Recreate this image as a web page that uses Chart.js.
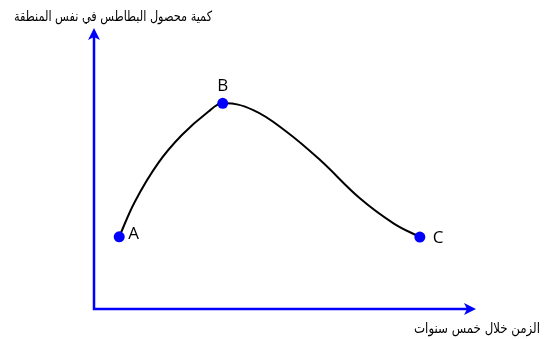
<!DOCTYPE html>
<html>
<head>
<meta charset="utf-8">
<script src="https://cdn.jsdelivr.net/npm/chart.js@4"></script>
<style>
  body { margin: 0; background: #fff; }
  #wrap { width: 556px; height: 339px; position: relative; }
</style>
</head>
<body>
<div id="wrap"><canvas id="myChart"></canvas></div>
<script>
// values (x: time, y: yield, both 0..100)
const pointLabels = ['A', 'B', 'C'];
const pointX = [6.6, 33.7, 85.3];
const pointY = [25.7, 73.2, 25.6];

const curveX = [6.6, 10.7, 16.8, 23.0, 29.9, 33.7, 41.7, 50.4, 59.2, 69.6, 78.4, 85.3];
const curveY = [25.7, 38.2, 51.9, 61.9, 70.2, 73.2, 70.8, 63.1, 53.0, 39.4, 30.5, 25.6];

const yTitle = 'كمية محصول البطاطس في نفس المنطقة';
const xTitle = 'الزمن خلال خمس سنوات';

const blue = '#0000ff';

// squeeze a title to the width it has in the picture
function fitText(c, text, right, y, width) {
    const w = c.measureText(text).width;
    const s = Math.min(1, width / w);
    c.save();
    c.translate(right, y);
    c.scale(s, 1);
    c.fillText(text, 0, 0);
    c.restore();
}

const axesPlugin = {
    id: 'axesArrows',
    beforeDatasetsDraw(chart) {
        const line = chart.getDatasetMeta(0).dataset;
        if (line && typeof line.updateControlPoints === 'function') {
            line.updateControlPoints(chart.chartArea, 'x');
        }
        const c = chart.ctx;
        const a = chart.chartArea;
        c.save();
        c.strokeStyle = blue;
        c.fillStyle = blue;
        c.lineWidth = 2.5;
        c.beginPath();
        c.moveTo(a.left, a.top + 6);
        c.lineTo(a.left, a.bottom);
        c.lineTo(a.right - 6, a.bottom);
        c.stroke();
        // arrow heads
        c.beginPath();
        c.moveTo(a.left, a.top);
        c.lineTo(a.left + 6, a.top + 12);
        c.lineTo(a.left, a.top + 9);
        c.lineTo(a.left - 6, a.top + 12);
        c.closePath();
        c.fill();
        c.beginPath();
        c.moveTo(a.right, a.bottom);
        c.lineTo(a.right - 12, a.bottom - 6);
        c.lineTo(a.right - 9, a.bottom);
        c.lineTo(a.right - 12, a.bottom + 6);
        c.closePath();
        c.fill();
        c.restore();
    },
    afterDatasetsDraw(chart) {
        const c = chart.ctx;
        const meta = chart.getDatasetMeta(1);
        c.save();
        c.fillStyle = '#000';
        c.font = '17px "Open Sans"';
        c.textBaseline = 'middle';
        meta.data.forEach((pt, i) => {
            if (i === 1) {
                c.textAlign = 'center';
                c.fillText(pointLabels[i], pt.x, pt.y - 17);
            } else if (i === 0) {
                c.textAlign = 'left';
                c.fillText(pointLabels[i], pt.x + 9, pt.y - 3);
            } else {
                c.textAlign = 'left';
                c.fillText(pointLabels[i], pt.x + 13, pt.y + 1);
            }
        });
        c.font = '14px "DejaVu Sans"';
        c.direction = 'rtl';
        c.textAlign = 'right';
        fitText(c, yTitle, 212, 17, 198);
        fitText(c, xTitle, 540, 329, 126);
        c.restore();
    }
};

const ctx = document.getElementById('myChart').getContext('2d');
const myChart = new Chart(ctx, {
    type: 'line',
    data: {
        datasets: [{
            data: curveX.map((x, i) => ({ x: x, y: curveY[i] })),
            borderColor: '#000',
            borderWidth: 2,
            pointRadius: 0,
            fill: false,
            tension: 0.4,
            order: 1
        }, {
            data: pointX.map((x, i) => ({ x: x, y: pointY[i] })),
            showLine: false,
            backgroundColor: blue,
            borderColor: blue,
            pointRadius: 5.5,
            pointBorderWidth: 0,
            order: 0
        }]
    },
    options: {
        responsive: true,
        maintainAspectRatio: false,
        animation: false,
        layout: { padding: { left: 94, right: 80, top: 28, bottom: 30 } },
        plugins: { legend: { display: false }, tooltip: { enabled: false } },
        scales: {
            x: { type: 'linear', min: 0, max: 100, display: false },
            y: { min: 0, max: 100, display: false }
        }
    },
    plugins: [axesPlugin]
});
</script>
</body>
</html>
